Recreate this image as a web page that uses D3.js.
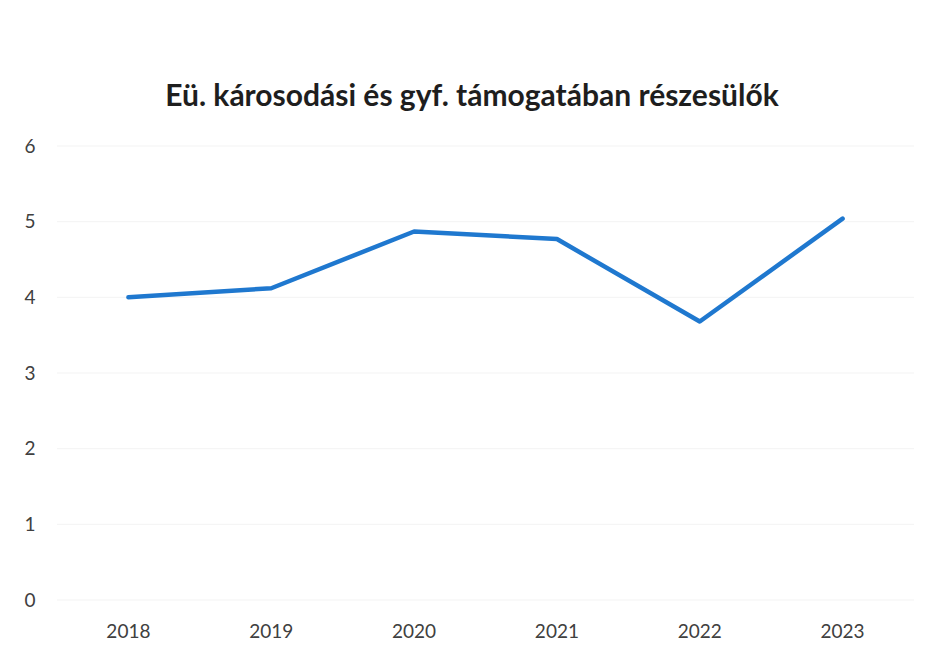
<!DOCTYPE html>
<html>
<head>
<meta charset="utf-8">
<script src="https://cdn.jsdelivr.net/npm/d3@7"></script>
<style>
  body { margin: 0; background: #fff; }
  svg { display: block; }
</style>
</head>
<body>
<svg id="chart" width="934" height="657"></svg>
<script>
const title = "Eü. károsodási és gyf. támogatában részesülők";
const years = ["2018", "2019", "2020", "2021", "2022", "2023"];
const values = [4.0, 4.12, 4.87, 4.77, 3.68, 5.04];
const yTicks = [0, 1, 2, 3, 4, 5, 6];

const svg = d3.select("#chart");

const x = d3.scalePoint()
  .domain(years)
  .range([57, 914])
  .padding(0.5);

const y = d3.scaleLinear()
  .domain([0, 6])
  .range([600, 146]);

// faint gridlines
svg.append("g")
  .selectAll("line")
  .data(yTicks)
  .join("line")
  .attr("x1", 57)
  .attr("x2", 914)
  .attr("y1", d => y(d))
  .attr("y2", d => y(d))
  .attr("stroke", "#f3f3f3")
  .attr("stroke-width", 1);

// y labels
svg.append("g")
  .selectAll("text")
  .data(yTicks)
  .join("text")
  .attr("x", 30)
  .attr("y", d => y(d))
  .attr("dy", "0.35em")
  .attr("text-anchor", "middle")
  .attr("font-family", "Lato, 'Open Sans', sans-serif")
  .attr("font-size", 19)
  .attr("fill", "#404040")
  .text(d => d);

// x labels
svg.append("g")
  .selectAll("text")
  .data(years)
  .join("text")
  .attr("x", d => x(d))
  .attr("y", 638)
  .attr("text-anchor", "middle")
  .attr("font-family", "Lato, 'Open Sans', sans-serif")
  .attr("font-size", 19)
  .attr("fill", "#404040")
  .text(d => d);

// line
const line = d3.line()
  .x((d, i) => x(years[i]))
  .y(d => y(d));

svg.append("path")
  .datum(values)
  .attr("d", line)
  .attr("fill", "none")
  .attr("stroke", "#1f78cf")
  .attr("stroke-width", 4.5)
  .attr("stroke-linejoin", "round")
  .attr("stroke-linecap", "round");

// title
svg.append("text")
  .attr("x", 472)
  .attr("y", 106)
  .attr("text-anchor", "middle")
  .attr("font-family", "Lato, 'Open Sans', sans-serif")
  .attr("font-weight", "bold")
  .attr("font-size", 30)
  .attr("fill", "#1e1e1e")
  .text(title);
</script>
</body>
</html>
